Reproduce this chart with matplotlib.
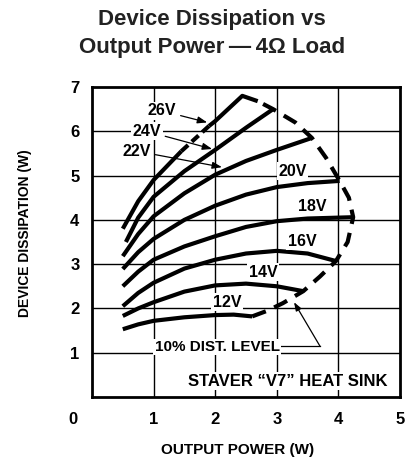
import matplotlib
matplotlib.use("Agg")
import matplotlib.pyplot as plt

# device dissipation curves (W out, W dissipated)
v12_x = [0.5, 0.75, 1.0, 1.5, 2.0, 2.3, 2.6]
v12_y = [1.53, 1.64, 1.72, 1.8, 1.85, 1.86, 1.82]
v14_x = [0.5, 0.75, 1.0, 1.5, 2.0, 2.5, 3.0, 3.43]
v14_y = [1.83, 2.0, 2.14, 2.38, 2.52, 2.56, 2.5, 2.39]
v16_x = [0.5, 0.75, 1.0, 1.5, 2.0, 2.5, 3.0, 3.5, 3.96]
v16_y = [2.05, 2.35, 2.58, 2.9, 3.1, 3.24, 3.3, 3.24, 3.07]
v18_x = [0.5, 0.75, 1.0, 1.5, 2.0, 2.5, 3.0, 3.5, 4.24]
v18_y = [2.5, 2.83, 3.1, 3.4, 3.63, 3.84, 3.97, 4.03, 4.06]
v20_x = [0.5, 0.75, 1.0, 1.5, 2.0, 2.5, 3.0, 3.5, 4.02]
v20_y = [2.89, 3.27, 3.57, 4.0, 4.32, 4.57, 4.74, 4.83, 4.88]
v22_x = [0.5, 0.75, 1.0, 1.5, 2.0, 2.5, 3.0, 3.57]
v22_y = [3.18, 3.68, 4.08, 4.6, 5.02, 5.33, 5.58, 5.85]
v24_x = [0.55, 0.75, 1.0, 1.5, 2.0, 2.5, 2.94]
v24_y = [3.5, 4.05, 4.52, 5.1, 5.58, 6.08, 6.5]
v26_x = [0.5, 0.75, 1.0, 1.45]
v26_y = [3.8, 4.42, 4.9, 5.55]
v26_gap_x = [1.45, 1.9]
v26_gap_y = [5.55, 6.12]
v26_top_x = [1.9, 2.0, 2.44, 2.69]
v26_top_y = [6.12, 6.23, 6.8, 6.68]

# 10% distortion envelope (dashed)
dist_x = [2.6, 2.85, 3.1, 3.43, 3.7, 3.96, 4.15, 4.24, 4.17, 4.02, 3.8, 3.57, 3.3, 2.94, 2.69]
dist_y = [1.82, 1.95, 2.12, 2.39, 2.72, 3.07, 3.5, 4.06, 4.5, 4.88, 5.4, 5.85, 6.2, 6.5, 6.68]

x_ticks = [1, 2, 3, 4, 5]
y_ticks = [1, 2, 3, 4, 5, 6, 7]

font = "Liberation Sans"

fig = plt.figure(figsize=(4.12, 4.66), dpi=100)
ax = fig.add_axes([92 / 412, 1 - 397 / 466, 308 / 412, 310 / 466])
ax.set_xlim(0, 5)
ax.set_ylim(0, 7)

for gx in [1, 2, 3, 4]:
    ax.axvline(gx, color="black", lw=1.0, zorder=1)
for gy in [1, 2, 3, 4, 5, 6]:
    ax.axhline(gy, color="black", lw=1.0, zorder=1)

lw = 3.0
for xs, ys in [(v12_x, v12_y), (v14_x, v14_y), (v16_x, v16_y), (v18_x, v18_y),
               (v20_x, v20_y), (v22_x, v22_y), (v24_x, v24_y),
               (v26_x, v26_y), (v26_top_x, v26_top_y)]:
    ax.plot(xs, ys, color="black", lw=lw, solid_capstyle="butt", zorder=3)
ax.plot(v26_gap_x, v26_gap_y, color="black", lw=lw, ls=(0, (2.2, 1.2)), zorder=3)
ax.plot(dist_x, dist_y, color="black", lw=lw, ls=(0, (3.5, 2.2)), zorder=3)

for s in ax.spines.values():
    s.set_linewidth(2.0)

ax.set_xticks(x_ticks)
ax.set_yticks(y_ticks)
ax.tick_params(axis="y", length=0, pad=9)
ax.tick_params(axis="x", length=0, pad=11)
for lab in ax.get_xticklabels() + ax.get_yticklabels():
    lab.set_fontfamily(font)
    lab.set_fontweight("bold")
    lab.set_fontsize(12)
fig.text(73 / 412, 1 - 420 / 466, "0", ha="center", va="center",
         family=font, weight="bold", fontsize=12)

fig.text(238 / 412, 1 - 450 / 466, "OUTPUT POWER (W)", ha="center", va="center",
         family=font, weight="bold", fontsize=11)
fig.text(25 / 412, 1 - 233 / 466, "DEVICE DISSIPATION (W)", rotation=90,
         ha="center", va="center", family=font, weight="bold", fontsize=10)

box = dict(facecolor="white", edgecolor="none", pad=1.0)
lab_kw = dict(family=font, weight="bold", fontsize=11.5, ha="center", va="center",
              zorder=4, bbox=box)
ax.text(3.25, 5.1, "20V", **lab_kw)
ax.text(3.57, 4.31, "18V", **lab_kw)
ax.text(3.41, 3.52, "16V", **lab_kw)
ax.text(2.78, 2.82, "14V", **lab_kw)
ax.text(2.19, 2.14, "12V", **lab_kw)

arrow = dict(arrowstyle="-|>,head_length=0.5,head_width=0.18", color="black", lw=0.9,
             shrinkA=2, shrinkB=0)
ax.annotate("26V", xy=(1.87, 6.2), xytext=(1.14, 6.46), arrowprops=arrow, **lab_kw)
ax.annotate("24V", xy=(1.95, 5.6), xytext=(0.89, 6.0), arrowprops=arrow, **lab_kw)
ax.annotate("22V", xy=(2.11, 5.19), xytext=(0.73, 5.55), arrowprops=arrow, **lab_kw)

ax.text(2.03, 1.13, "10% DIST. LEVEL", **dict(lab_kw, fontsize=11))
ax.plot([2.95, 3.7], [1.15, 1.15], color="black", lw=0.9, zorder=2)
ax.annotate("", xy=(3.28, 2.14), xytext=(3.7, 1.15),
            arrowprops=dict(arrowstyle="-|>,head_length=0.5,head_width=0.18",
                            color="black", lw=0.9, shrinkA=0, shrinkB=0))
ax.text(3.17, 0.36, "STAVER \u201cV7\u201d HEAT SINK", **dict(lab_kw, fontsize=12))

fig.text(212 / 412, 1 - 20 / 466, "Device Dissipation vs", ha="center", va="center",
         family=font, weight="bold", fontsize=16, color="#222222")
fig.text(212 / 412, 1 - 48 / 466, "Output Power\u2009\u2014\u20094\u03a9 Load", ha="center",
         va="center", family=font, weight="bold", fontsize=16, color="#222222")

fig.savefig("out.png", dpi=100)
